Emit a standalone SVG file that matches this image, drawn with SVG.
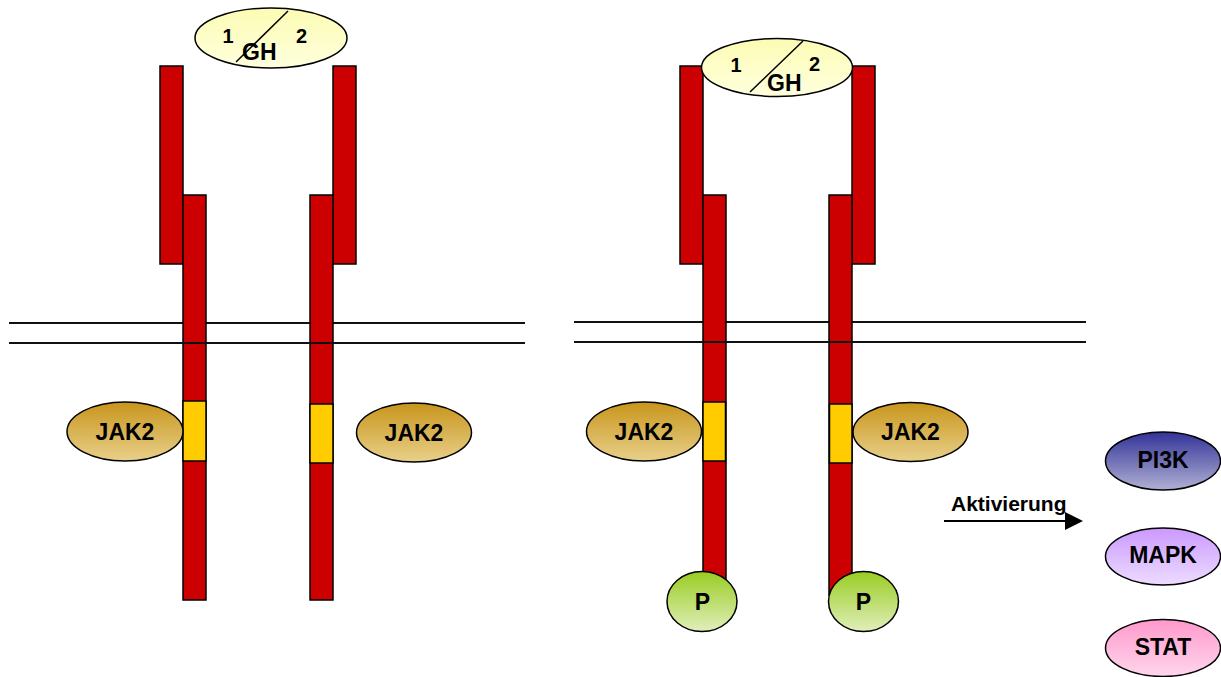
<svg xmlns="http://www.w3.org/2000/svg" width="1221" height="677" viewBox="0 0 1221 677">
  <style>
    .bar { fill: #cc0000; stroke: #000; stroke-width: 1.5; }
    .box { fill: #ffcc00; stroke: #000; stroke-width: 1.5; }
    .mem { stroke: #111; stroke-width: 2; fill: none; }
    .ell { stroke: #000; stroke-width: 1.5; }
    .lbl { font-family: "Liberation Sans", Arial, sans-serif; font-weight: bold; fill: #000; }
    .big { font-size: 23px; text-anchor: middle; }
    .num { font-size: 20px; }
  </style>
  <defs>
    <linearGradient id="gJak" x1="0" y1="0" x2="0" y2="1">
      <stop offset="0" stop-color="#c8951c"/>
      <stop offset="1" stop-color="#e8d08a"/>
    </linearGradient>
    <linearGradient id="gGh" x1="0" y1="0" x2="0" y2="1">
      <stop offset="0" stop-color="#fcfcb4"/>
      <stop offset="1" stop-color="#ffffde"/>
    </linearGradient>
    <linearGradient id="gP" x1="0" y1="0" x2="0" y2="1">
      <stop offset="0" stop-color="#99cc22"/>
      <stop offset="1" stop-color="#e0efba"/>
    </linearGradient>
    <linearGradient id="gPi3k" x1="0" y1="0" x2="0" y2="1">
      <stop offset="0" stop-color="#333399"/>
      <stop offset="1" stop-color="#b0b0d4"/>
    </linearGradient>
    <linearGradient id="gMapk" x1="0" y1="0" x2="0" y2="1">
      <stop offset="0" stop-color="#cc99ff"/>
      <stop offset="1" stop-color="#ecdcff"/>
    </linearGradient>
    <linearGradient id="gStat" x1="0" y1="0" x2="0" y2="1">
      <stop offset="0" stop-color="#ff99cc"/>
      <stop offset="1" stop-color="#ffd6ec"/>
    </linearGradient>
  </defs>

  <!-- left panel: inactive receptor dimer -->
  <g id="left-membrane">
    <line class="mem" x1="9" y1="323" x2="525" y2="323"/>
  </g>
  <g id="left-receptor-a">
    <rect class="bar" x="160" y="66" width="23" height="198"/>
    <rect class="bar" x="183" y="195" width="23" height="405"/>
    <rect class="box" x="183" y="401" width="23" height="60"/>
  </g>
  <g id="left-receptor-b">
    <rect class="bar" x="333" y="66" width="23" height="198"/>
    <rect class="bar" x="310" y="195" width="23" height="405"/>
    <rect class="box" x="310" y="404" width="23" height="59"/>
  </g>
  <g id="left-membrane-inner">
    <line class="mem" x1="9" y1="343" x2="525" y2="343"/>
  </g>
  <g id="left-gh">
    <ellipse class="ell" cx="271" cy="38" rx="76" ry="30" fill="url(#gGh)"/>
    <line x1="236" y1="62" x2="288" y2="11" stroke="#000" stroke-width="1.5"/>
    <text class="lbl num" x="222.5" y="43">1</text>
    <text class="lbl num" x="296" y="43">2</text>
    <text class="lbl" x="242" y="60" font-size="23">GH</text>
  </g>
  <g id="left-jak2-a">
    <ellipse class="ell" cx="125" cy="431.5" rx="58" ry="29.5" fill="url(#gJak)"/>
    <text class="lbl big" x="125" y="439.5">JAK2</text>
  </g>
  <g id="left-jak2-b">
    <ellipse class="ell" cx="414" cy="432.5" rx="57.5" ry="29.5" fill="url(#gJak)"/>
    <text class="lbl big" x="414" y="440.5">JAK2</text>
  </g>

  <!-- right panel: activated receptor dimer -->
  <g id="right-membrane">
    <line class="mem" x1="574" y1="322" x2="1086" y2="322"/>
  </g>
  <g id="right-receptor-a">
    <rect class="bar" x="680" y="66" width="23" height="198"/>
    <rect class="bar" x="703" y="195" width="23" height="400"/>
    <rect class="box" x="703" y="402" width="22.5" height="59"/>
  </g>
  <g id="right-receptor-b">
    <rect class="bar" x="852" y="66" width="23" height="198"/>
    <rect class="bar" x="829" y="195" width="23" height="400"/>
    <rect class="box" x="829.5" y="404" width="22.5" height="59"/>
  </g>
  <g id="right-membrane-inner">
    <line class="mem" x1="574" y1="342" x2="1086" y2="342"/>
  </g>
  <g id="right-gh">
    <ellipse class="ell" cx="777" cy="67.5" rx="75.5" ry="29" fill="url(#gGh)"/>
    <line x1="750" y1="92" x2="803" y2="41" stroke="#000" stroke-width="1.5"/>
    <text class="lbl num" x="730.5" y="72">1</text>
    <text class="lbl num" x="809" y="71">2</text>
    <text class="lbl" x="767" y="91" font-size="23">GH</text>
  </g>
  <g id="right-jak2-a">
    <ellipse class="ell" cx="644" cy="431.5" rx="57.5" ry="29.5" fill="url(#gJak)"/>
    <text class="lbl big" x="644" y="439.5">JAK2</text>
  </g>
  <g id="right-jak2-b">
    <ellipse class="ell" cx="910.5" cy="432" rx="57.5" ry="29.5" fill="url(#gJak)"/>
    <text class="lbl big" x="910.5" y="440">JAK2</text>
  </g>
  <g id="phos-a">
    <ellipse class="ell" cx="702" cy="601.5" rx="35" ry="30" fill="url(#gP)"/>
    <text class="lbl big" x="702.5" y="609.5">P</text>
  </g>
  <g id="phos-b">
    <ellipse class="ell" cx="863.5" cy="601.5" rx="35" ry="30" fill="url(#gP)"/>
    <text class="lbl big" x="863.5" y="609.5">P</text>
  </g>

  <!-- activation arrow -->
  <g id="connectors">
    <line x1="944" y1="521" x2="1066" y2="521" stroke="#000" stroke-width="2"/>
    <polygon points="1065,512 1083,521 1065,530" fill="#000"/>
  </g>
  <g id="arrow-label">
    <text class="lbl" x="951" y="511" font-size="21">Aktivierung</text>
  </g>

  <!-- downstream pathways -->
  <g id="pi3k">
    <ellipse class="ell" cx="1163" cy="461" rx="57.5" ry="29" fill="url(#gPi3k)"/>
    <text class="lbl big" x="1163" y="468">PI3K</text>
  </g>
  <g id="mapk">
    <ellipse class="ell" cx="1163" cy="556.5" rx="57.5" ry="28.5" fill="url(#gMapk)"/>
    <text class="lbl big" x="1163" y="563">MAPK</text>
  </g>
  <g id="stat">
    <ellipse class="ell" cx="1163" cy="648" rx="57.5" ry="28.5" fill="url(#gStat)"/>
    <text class="lbl big" x="1163" y="655">STAT</text>
  </g>
</svg>
